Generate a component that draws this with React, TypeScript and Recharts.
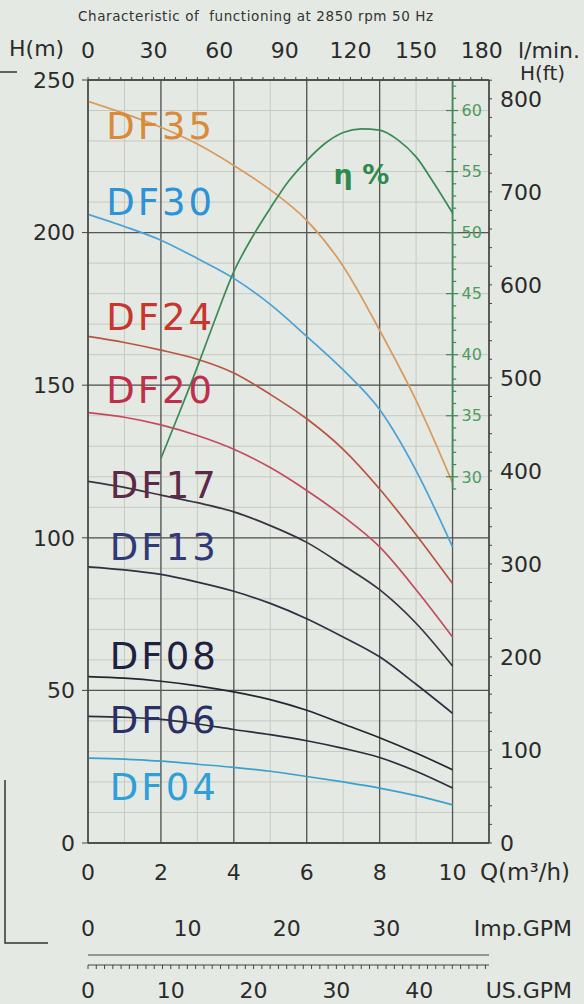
import { ComposedChart, Line, XAxis, YAxis, CartesianGrid, ReferenceLine, ReferenceDot } from 'recharts'

// flow rate samples in m3/h
const flowQ = [0, 1, 2, 3, 4, 5, 6, 7, 8, 9, 10]

// head in metres of each pump model, read at flowQ
const headDF35 = [243, 239, 234.5, 229, 222, 214, 204, 189, 168, 145, 118]
const headDF30 = [206, 202, 197.5, 191.5, 185, 176.5, 166, 155, 142, 122, 97]
const headDF24 = [166, 164, 161.5, 158.5, 154, 147, 139, 129, 116, 101, 85]
const headDF20 = [141, 139.5, 137, 133.5, 129, 123, 115.5, 107, 97, 83, 67.5]
const headDF17 = [118.5, 116.5, 114, 111.5, 108.5, 104, 98.5, 91, 83, 72, 58]
const headDF13 = [90.5, 89.5, 88, 85.5, 82.5, 78.5, 73.5, 67.5, 61, 52, 42.5]
const headDF08 = [54.5, 54, 53, 51.5, 49.5, 47, 43.5, 39, 34.5, 29.5, 24]
const headDF06 = [41.5, 41.2, 40.5, 39, 37.2, 35.5, 33.5, 31, 28, 23.5, 18]
const headDF04 = [27.8, 27.5, 26.8, 25.8, 24.8, 23.5, 21.8, 20, 18, 15.5, 12.5]

// efficiency curve
const effQ = [2, 2.5, 3, 3.5, 4, 4.5, 5, 5.5, 6, 6.5, 7, 7.5, 8, 8.5, 9, 9.5, 10]
const effPct = [31.5, 35.2, 39, 43, 46.8, 49.6, 52, 54.2, 55.9, 57.3, 58.2, 58.5, 58.4, 57.6, 56.2, 54, 51.6]

const models = ['DF35', 'DF30', 'DF24', 'DF20', 'DF17', 'DF13', 'DF08', 'DF06', 'DF04']
const modelHeads = [headDF35, headDF30, headDF24, headDF20, headDF17, headDF13, headDF08, headDF06, headDF04]
const lineColors = ['#d99a5e', '#47a2db', '#b8553f', '#c44b5e', '#3a3340', '#2f3042', '#25252f', '#2c2c3c', '#3aa0cf']
const tagColors = ['#d98a3a', '#2d93d6', '#c8372d', '#c02f4a', '#5b2a48', '#303a78', '#1e2140', '#283066', '#2e9fd8']
// where each model name sits (flow, head)
const tagQ = [0.5, 0.5, 0.5, 0.5, 0.6, 0.6, 0.6, 0.6, 0.6]
const tagH = [235, 210, 172.5, 148.5, 117.5, 97, 61.5, 40.5, 18.5]

// axis tick labels
const qTicks = [0, 2, 4, 6, 8, 10]
const headTicks = [0, 50, 100, 150, 200, 250]
const ftLabels = [0, 100, 200, 300, 400, 500, 600, 700, 800]
const lminLabels = [0, 30, 60, 90, 120, 150, 180]
const impLabels = [0, 10, 20, 30]
const usLabels = [0, 10, 20, 30, 40]
const effLabels = [30, 35, 40, 45, 50, 55, 60]

// unit conversions from m3/h and metres
const Q_MAX = 11
const LMIN_PER_M3H = 1000 / 60
const IMP_PER_M3H = 3.6662
const US_PER_M3H = 4.4029
const FT_PER_M = 1 / 0.3048
const EFF_AXIS_Q = 10

const BG = '#e5e9e3'
const INK = '#2b2b2b'
const FRAME = '#444'
const GREEN = '#3b8a55'
const GREEN_TEXT = '#4f9a62'
const FONT = '"DejaVu Sans", Arial, sans-serif'

const steps = (from: number, to: number, step: number) => {
  const out: number[] = []
  for (let v = from; v <= to + 1e-9; v += step) out.push(Math.round(v * 100) / 100)
  return out
}

const qMinor = steps(0, Q_MAX, 0.5)
const headMinor = steps(0, 250, 10)
const ftTicks = steps(0, 820, 20)
const lminTicks = steps(0, 180, 5)
const impTicks = steps(0, 40, 1)
const usTicks = steps(0, 48, 1)
const effTicks = steps(29, 62, 1)

const onlyLabels = (labels: number[]) => (v: number) => (labels.includes(v) ? String(v) : '')

const modelSeries = models.map((name, i) => ({
  name,
  data: flowQ.map((q, j) => ({ q, h: modelHeads[i][j] })),
}))
const effSeries = effQ.map((q, i) => ({ q, eff: effPct[i] }))

const tickFont = { fontSize: 22, fill: INK }

const Caption = ({ x, y, text, anchor = 'start', size = 22, color = INK }: any) => (
  <text x={x} y={y} dy="0.36em" textAnchor={anchor} fontSize={size} fill={color}>
    {text}
  </text>
)

const ModelTag = ({ viewBox, text, color }: any) => (
  <text x={viewBox.x} y={viewBox.y} dy="0.36em" fill={color} fontSize={37} letterSpacing={3}>
    {text}
  </text>
)

export default function App() {
  return (
    <div style={{ position: 'absolute', left: 0, top: 0, width: 584, height: 1004, background: BG, fontFamily: FONT, overflow: 'hidden' }}>
      <div style={{ position: 'absolute', left: 0, top: 0 }}>
        <ComposedChart width={584} height={1004} margin={{ top: 0, right: 0, bottom: 0, left: 0 }}>
          {/* bottom axes, stacked downward in this order */}
          <XAxis
            xAxisId="flow"
            dataKey="q"
            type="number"
            domain={[0, Q_MAX]}
            allowDataOverflow
            ticks={qTicks}
            interval={0}
            height={50}
            tickSize={0}
            tickMargin={21}
            tickLine={false}
            tick={tickFont}
            axisLine={{ stroke: FRAME, strokeWidth: 1.3 }}
            label={(p: any) => <Caption x={p.viewBox.x + p.viewBox.width - 9} y={p.viewBox.y + 29} text="Q(m³/h)" size={23} />}
          />
          <XAxis xAxisId="flowMinor" dataKey="q" type="number" domain={[0, Q_MAX]} allowDataOverflow ticks={qMinor} height={0} hide />
          <XAxis
            xAxisId="gpmImp"
            dataKey="q"
            type="number"
            domain={[0, Q_MAX * IMP_PER_M3H]}
            allowDataOverflow
            ticks={impLabels}
            interval={0}
            height={62}
            tickSize={0}
            tickMargin={27}
            tickLine={false}
            axisLine={false}
            tick={tickFont}
            label={(p: any) => <Caption x={p.viewBox.x + p.viewBox.width + 83} y={p.viewBox.y + 35} text="Imp.GPM" anchor="end" />}
          />
          <XAxis
            xAxisId="gpmImpRuler"
            dataKey="q"
            type="number"
            domain={[0, Q_MAX * IMP_PER_M3H]}
            allowDataOverflow
            ticks={impTicks}
            interval={0}
            height={10}
            tickSize={-4}
            tick={false}
            stroke={FRAME}
          />
          <XAxis
            xAxisId="gpmUs"
            dataKey="q"
            type="number"
            domain={[0, Q_MAX * US_PER_M3H]}
            allowDataOverflow
            ticks={usTicks}
            interval={0}
            height={39}
            tickSize={4}
            tickMargin={13}
            tickFormatter={onlyLabels(usLabels)}
            tick={tickFont}
            stroke={FRAME}
            label={(p: any) => <Caption x={p.viewBox.x + p.viewBox.width + 83} y={p.viewBox.y + 25} text="US.GPM" anchor="end" />}
          />
          <XAxis
            xAxisId="lmin"
            dataKey="q"
            orientation="top"
            type="number"
            domain={[0, Q_MAX * LMIN_PER_M3H]}
            allowDataOverflow
            ticks={lminTicks}
            interval={0}
            height={80}
            tickSize={3}
            tickMargin={19}
            tickFormatter={onlyLabels(lminLabels)}
            tick={tickFont}
            stroke={FRAME}
            axisLine={{ stroke: FRAME, strokeWidth: 1.3 }}
            label={(p: any) => <Caption x={p.viewBox.x + p.viewBox.width + 29} y={50} text="l/min." />}
          />

          <YAxis yAxisId="eff" type="number" domain={[0, 62.5]} allowDataOverflow width={0} hide />
          <YAxis
            yAxisId="head"
            type="number"
            domain={[0, 250]}
            allowDataOverflow
            ticks={headTicks}
            interval={0}
            width={88}
            tickSize={6}
            tickMargin={7}
            tick={tickFont}
            stroke={FRAME}
            axisLine={{ stroke: FRAME, strokeWidth: 1.3 }}
            label={(p: any) => <Caption x={9} y={p.viewBox.y - 32} text="H(m)" />}
          />
          <YAxis yAxisId="headMinor" type="number" domain={[0, 250]} allowDataOverflow ticks={headMinor} width={0} hide />
          <YAxis
            yAxisId="ft"
            orientation="right"
            type="number"
            domain={[0, 250 * FT_PER_M]}
            allowDataOverflow
            ticks={ftTicks}
            interval={0}
            width={95}
            tickSize={3}
            tickMargin={8}
            tickFormatter={onlyLabels(ftLabels)}
            tick={tickFont}
            stroke={FRAME}
            axisLine={{ stroke: FRAME, strokeWidth: 1.3 }}
            label={(p: any) => <Caption x={p.viewBox.x + 31} y={p.viewBox.y - 7} text="H(ft)" size={20} />}
          />

          <CartesianGrid xAxisId="flowMinor" yAxisId="headMinor" stroke="#c5cac2" strokeWidth={1} />
          <CartesianGrid xAxisId="flow" yAxisId="head" stroke="#555" strokeWidth={1.3} />

          {modelSeries.map((s, i) => (
            <Line
              key={s.name}
              xAxisId="flow"
              yAxisId="head"
              data={s.data}
              dataKey="h"
              type="monotone"
              stroke={lineColors[i]}
              strokeWidth={1.7}
              dot={false}
              isAnimationActive={false}
            />
          ))}
          <Line
            xAxisId="flow"
            yAxisId="eff"
            data={effSeries}
            dataKey="eff"
            type="monotone"
            stroke={GREEN}
            strokeWidth={1.7}
            dot={false}
            isAnimationActive={false}
          />

          {/* efficiency scale drawn on the 10 m3/h line */}
          <ReferenceLine
            xAxisId="flow"
            yAxisId="eff"
            segment={[{ x: EFF_AXIS_Q, y: 29 }, { x: EFF_AXIS_Q, y: 62.5 }]}
            stroke={GREEN}
            strokeWidth={1.6}
          />
          {effTicks.map(v => {
            const major = effLabels.includes(v)
            return (
              <ReferenceLine
                key={`et${v}`}
                xAxisId="flow"
                yAxisId="eff"
                segment={[{ x: EFF_AXIS_Q - (major ? 0.18 : 0), y: v }, { x: EFF_AXIS_Q + (major ? 0.15 : 0.1), y: v }]}
                stroke={GREEN}
                strokeWidth={1.2}
              />
            )
          })}
          {effLabels.map(v => (
            <ReferenceDot
              key={`el${v}`}
              xAxisId="flow"
              yAxisId="eff"
              x={EFF_AXIS_Q}
              y={v}
              r={0}
              stroke="none"
              fill="none"
              label={(p: any) => <Caption x={p.viewBox.x + 9} y={p.viewBox.y} text={String(v)} size={16} color={GREEN_TEXT} />}
            />
          ))}
          <ReferenceDot
            xAxisId="flow"
            yAxisId="eff"
            x={7.5}
            y={54.8}
            r={0}
            stroke="none"
            fill="none"
            label={(p: any) => (
              <text x={p.viewBox.x} y={p.viewBox.y} dy="0.36em" textAnchor="middle" fontSize={27} fontWeight="bold" fill="#2e8a4c">
                η %
              </text>
            )}
          />

          {models.map((name, i) => (
            <ReferenceDot
              key={`tag${name}`}
              xAxisId="flow"
              yAxisId="head"
              x={tagQ[i]}
              y={tagH[i]}
              r={0}
              stroke="none"
              fill="none"
              label={(p: any) => <ModelTag viewBox={p.viewBox} text={name} color={tagColors[i]} />}
            />
          ))}
        </ComposedChart>
      </div>
      <div style={{ position: 'absolute', left: 78, top: 10, fontSize: 13.5, lineHeight: 1, letterSpacing: 0.6, color: '#333', whiteSpace: 'nowrap' }}>
        Characteristic of&nbsp; functioning at 2850 rpm 50 Hz
      </div>
      <svg width={584} height={1004} style={{ position: 'absolute', left: 0, top: 0, pointerEvents: 'none' }}>
        <path d="M0 72 H17 M5 780 V943 H48" stroke="#333" strokeWidth={1.5} fill="none" />
      </svg>
    </div>
  )
}
